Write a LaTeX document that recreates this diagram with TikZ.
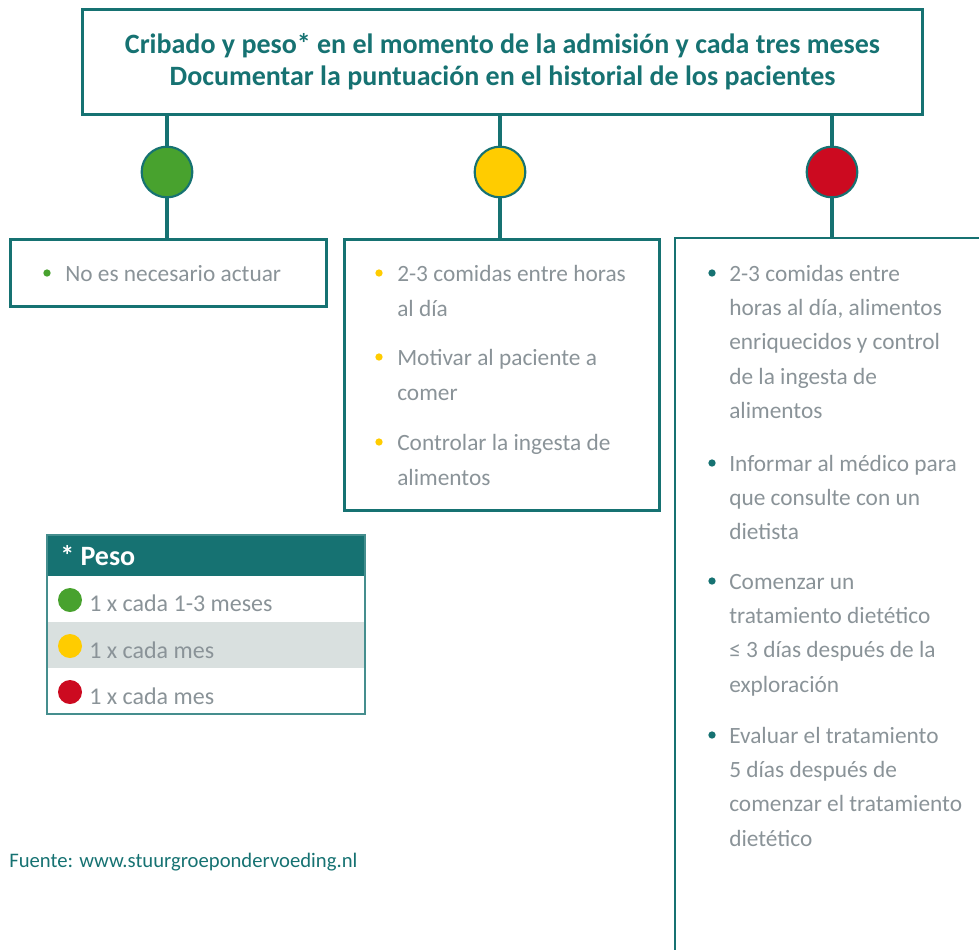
\documentclass[tikz,border=0pt]{standalone}
\usepackage{fontspec}
\setmainfont{Carlito}
\usetikzlibrary{positioning}
\definecolor{tealgr}{HTML}{167272}
\definecolor{txtgray}{HTML}{8A9398}
\definecolor{lightgr}{HTML}{D9E0DF}
\definecolor{sgreen}{HTML}{48A22E}
\definecolor{syellow}{HTML}{FFCC00}
\definecolor{sred}{HTML}{CC0A20}
\tikzset{
  frame/.style={draw=tealgr, line width=2.2pt, inner sep=0},
  link/.style={draw=tealgr, line width=3pt},
  signal/.style={circle, draw=tealgr, line width=1.6pt, minimum size=38pt, inner sep=0},
  bul/.style={circle, inner sep=0, minimum size=5.5pt},
  item/.style={anchor=base west, inner sep=0, align=left, text=txtgray, font=\fontsize{17.5}{25.8}\selectfont},
  row/.style={anchor=west, inner sep=0, text=txtgray, font=\fontsize{18}{20}\selectfont},
  legdot/.style={circle, inner sep=0, minimum size=18pt}
}
\begin{document}
\begin{tikzpicture}[x=0.75pt,y=-0.75pt]
\useasboundingbox (0,0) rectangle (979,950);
% top box
\node[frame, minimum width=840*0.75pt, minimum height=105*0.75pt, anchor=north west, align=center, text=tealgr, font=\fontsize{21}{24}\selectfont\bfseries] (head) at (81,8) {Cribado y peso* en el momento de la admisión y cada tres meses\\Documentar la puntuación en el historial de los pacientes};
% traffic lights
\node[signal, fill=sgreen] (sg) at (167,172) {};
\node[signal, fill=syellow] (sy) at (500,172) {};
\node[signal, fill=sred] (sr) at (832,172) {};
% boxes
\node[frame, minimum width=316*0.75pt, minimum height=67*0.75pt, anchor=north west] (boxg) at (9,238) {};
\node[frame, minimum width=315*0.75pt, minimum height=271*0.75pt, anchor=north west] (boxy) at (343,238) {};
\coordinate (boxr) at (675,238);
\coordinate (boxrb) at (675,950);
\coordinate (boxre) at (979,238);
\draw[draw=tealgr, line width=2.2pt] (boxrb) -- (boxr) -- (boxre);
% connectors
\path[link] (head.south -| sg) edge (sg);
\path[link] (head.south -| sy) edge (sy);
\path[link] (head.south -| sr) edge (sr);
\path[link] (sg) edge (boxg.north -| sg);
\path[link] (sy) edge (boxy.north -| sy);
\path[link] (sr) edge (boxr -| sr);
% green list
\node[bul, fill=sgreen] (bg1) at (47,273) {};
\node[item] (tg1) at (65,281) {No es necesario actuar};
% yellow list (anchored at the last line)
\node[bul, fill=syellow] (by1) at (379,273) {};
\node[bul, fill=syellow] (by2) at (379,357) {};
\node[bul, fill=syellow] (by3) at (379,442) {};
\node[item, font=\fontsize{17.5}{26.25}\selectfont] (ty1) at (397,316) {2-3 comidas entre horas\\al día};
\node[item, font=\fontsize{17.5}{26.25}\selectfont] (ty2) at (397,400) {Motivar al paciente a\\comer};
\node[item, font=\fontsize{17.5}{26.25}\selectfont] (ty3) at (397,485) {Controlar la ingesta de\\alimentos};
% red list (anchored at the last line)
\node[bul, fill=tealgr] (br1) at (712,273) {};
\node[bul, fill=tealgr] (br2) at (712,463) {};
\node[bul, fill=tealgr] (br3) at (712,581) {};
\node[bul, fill=tealgr] (br4) at (712,735) {};
\node[item] (tr1) at (729,418.6) {2-3 comidas entre\\horas al día, alimentos\\enriquecidos y control\\de la ingesta de\\alimentos};
\node[item] (tr2) at (729,539.8) {Informar al médico para\\que consulte con un\\dietista};
\node[item] (tr3) at (729,692.2) {Comenzar un\\tratamiento dietético\\≤ 3 días después de la\\exploración};
\node[item] (tr4) at (729,846.2) {Evaluar el tratamiento\\5 días después de\\comenzar el tratamiento\\dietético};
% legend
\fill[tealgr] (47,535) rectangle (365,576);
\fill[lightgr] (47,622) rectangle (365,668);
\draw[draw=tealgr!80, line width=1pt] (47,535) rectangle (365,714);
\node[anchor=west, inner sep=0, text=white, font=\fontsize{21}{22}\selectfont\bfseries] (leg) at (60,556) {* Peso};
\node[legdot, fill=sgreen] (lg) at (70,600) {};
\node[legdot, fill=syellow] (ly) at (70,646) {};
\node[legdot, fill=sred] (lr) at (70,692) {};
\node[row] (rg) at (89,603) {1 x cada 1-3 meses};
\node[row] (ry) at (89,650) {1 x cada mes};
\node[row] (rr) at (89,696) {1 x cada mes};
% source
\node[anchor=west, inner sep=0, text=tealgr, font=\fontsize{15.5}{17}\selectfont] (src) at (9,862) {Fuente: www.stuurgroepondervoeding.nl};
\end{tikzpicture}
\end{document}
